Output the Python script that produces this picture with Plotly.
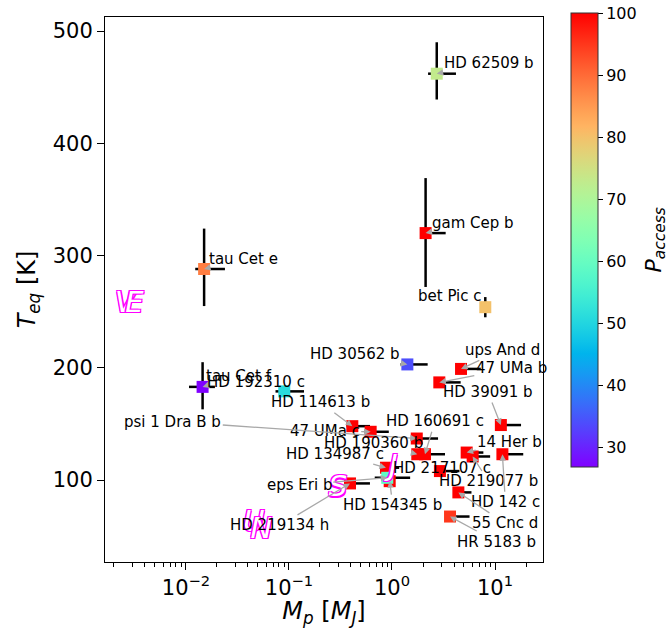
import numpy as np
import plotly.graph_objects as go

# ---------------- data ----------------
names = ["HD 62509 b", "tau Cet e", "gam Cep b", "bet Pic c", "tau Cet f", "HD 192310 c",
         "HD 30562 b", "ups And d", "47 UMa b", "HD 39091 b", "HD 114613 b", "47 UMa c",
         "psi 1 Dra B b", "HD 190360 b", "HD 160691 c", "HD 134987 c", "HD 154345 b",
         "eps Eri b", "HD 219134 h", "HD 217107 c", "14 Her b", "HD 219077 b", "HD 142 c",
         "55 Cnc d", "HR 5183 b"]
mass = [2.72, 0.0150, 2.12, 8.05, 0.0145, 0.090,
        1.41, 4.68, 2.88, 11.4, 0.412, 0.621,
        1.74, 1.76, 2.09, 0.874, 0.95,
        0.90, 0.391, 2.92, 5.31, 6.07, 11.8,
        4.41, 3.66]
teq = [462, 288, 320, 254, 183, 179,
       203, 199, 187, 149, 148, 143,
       137, 123, 123, 111, 99,
       102, 97, 108, 124.5, 121, 123,
       89, 67.5]
p_access = [73, 88, 100, 80, 26.8, 51,
            34, 100, 100, 100, 100, 100,
            100, 100, 100, 100, 100,
            59, 100, 100, 100, 100, 100,
            100, 95]
mass_err_lo = [0.48, 0.0027, 0.25, 0.3, 0.0038, 0.016,
               0.2, 0.5, 0.3, 1.0, 0.05, 0.08,
               0.2, 0.2, 0.2, 0.1, 0.0,
               0.22, 0.04, 0.3, 0.5, 0.5, 1.0,
               0.4, 0.3]
mass_err_hi = [1.46, 0.0089, 1.2, 0.3, 0.0046, 0.05,
               0.81, 2.6, 1.76, 6.5, 0.2, 0.31,
               1.06, 0.5, 1.18, 0.3, 0.0,
               0.6, 0.22, 1.6, 2.4, 2.9, 7.0,
               1.5, 2.0]
teq_err_lo = [23, 33, 48, 9, 20, 0,
              0, 0, 0, 0, 0, 0,
              0, 0, 0, 0, 0,
              0, 0, 0, 0, 0, 0,
              0, 0]
teq_err_hi = [28, 36, 49, 9, 22, 0,
              0, 0, 0, 0, 0, 0,
              0, 0, 0, 0, 0,
              0, 0, 0, 0, 0, 0,
              0, 0]

# Solar-system reference planets
ss_letters = ["V", "E", "J", "S", "U", "N"]
ss_mass = [0.00256, 0.00315, 1.03, 0.299, 0.0457, 0.054]
ss_teq = [256, 256, 111, 92, 61, 55]

x_ticks = [0.01, 0.1, 1, 10]
x_ticktext = ["10<sup>−2</sup>", "10<sup>−1</sup>", "10<sup>0</sup>", "10<sup>1</sup>"]
y_ticks = [100, 200, 300, 400, 500]
cbar_ticks = [30, 40, 50, 60, 70, 80, 90, 100]

# ---------------- layout helpers (label placement, pixels) ----------------
label_offsets = {
    "HD 62509 b": (52, -11), "tau Cet e": (39, -10), "gam Cep b": (47, -10),
    "bet Pic c": (-35, -11), "tau Cet f": (36, -11), "HD 192310 c": (-28, -9),
    "HD 30562 b": (-52, -10), "ups And d": (41, -19), "47 UMa b": (72, -14),
    "HD 39091 b": (-13, -33), "HD 114613 b": (-32, -24), "47 UMa c": (-46, -1),
    "psi 1 Dra B b": (-244, -17), "HD 190360 b": (-44, -11), "HD 160691 c": (10, -33),
    "HD 134987 c": (-51, -14), "HD 154345 b": (3, 24), "eps Eri b": (-88, 7),
    "HD 219134 h": (-70, 42), "HD 217107 c": (2, -3), "14 Her b": (43, -11),
    "HD 219077 b": (16, 25), "HD 142 c": (3, 48), "55 Cnc d": (47, 31),
    "HR 5183 b": (46, 25),
}
no_arrow = {"HD 217107 c"}

# matplotlib 'rainbow' colormap
def rainbow(t):
    r = np.clip(np.abs(2 * t - 0.5), 0, 1)
    g = np.clip(np.sin(np.pi * t), 0, 1)
    b = np.clip(np.cos(np.pi * t / 2), 0, 1)
    return f"rgb({int(round(r*255))},{int(round(g*255))},{int(round(b*255))})"

colorscale = [[float(t), rainbow(t)] for t in np.linspace(0, 1, 41)]
cmin, cmax = min(p_access), 100

FONT = "DejaVu Sans"

fig = go.Figure()

fig.add_trace(go.Scatter(
    x=mass, y=teq, mode="markers",
    marker=dict(symbol="square", size=12, color=p_access, colorscale=colorscale,
                cmin=cmin, cmax=cmax, line=dict(width=0),
                colorbar=dict(
                    x=1.064, xanchor="left", xpad=0, y=1.007, yanchor="top", ypad=0,
                    lenmode="pixels", len=454, thickness=27,
                    outlinewidth=1, outlinecolor="#333",
                    tickvals=cbar_ticks, ticks="outside", ticklen=5, tickcolor="black",
                    tickfont=dict(family=FONT, size=16, color="black"),
                )),
    error_x=dict(type="data", symmetric=False, array=mass_err_hi, arrayminus=mass_err_lo,
                 color="black", thickness=2.5, width=0),
    error_y=dict(type="data", symmetric=False, array=teq_err_hi, arrayminus=teq_err_lo,
                 color="black", thickness=2.5, width=0),
    showlegend=False, hoverinfo="text", text=names,
))

fig.add_trace(go.Scatter(
    x=ss_mass, y=ss_teq, mode="text", text=ss_letters,
    textfont=dict(family=FONT, size=29, color="white", style="italic",
                  shadow="-1.3px -1.3px 0 #ff00ff, 1.3px -1.3px 0 #ff00ff, -1.3px 1.3px 0 #ff00ff, 1.3px 1.3px 0 #ff00ff"),
    showlegend=False, hoverinfo="skip",
))

annotations = []
for n, mx, my in zip(names, mass, teq):
    dx, dy = label_offsets[n]
    if n in no_arrow:
        annotations.append(dict(x=np.log10(mx), y=my, xref="x", yref="y", text=n,
                                showarrow=False, xshift=dx, yshift=-dy,
                                font=dict(family=FONT, size=15, color="black")))
    else:
        annotations.append(dict(x=np.log10(mx), y=my, xref="x", yref="y", text=n,
                                showarrow=True, ax=dx, ay=dy, arrowhead=2, arrowsize=1,
                                arrowwidth=1.3, arrowcolor="#a8a8a8", standoff=0,
                                font=dict(family=FONT, size=15, color="black")))

# colorbar title (rotated)
annotations.append(dict(xref="paper", yref="paper", x=1.257, y=0.591,
                        xanchor="center", yanchor="middle", textangle=-90, showarrow=False,
                        text="<i>P</i><sub><i>access</i></sub>",
                        font=dict(family=FONT, size=22, color="black")))

axis_common = dict(showgrid=False, zeroline=False, showline=True, linecolor="black",
                   linewidth=1, mirror=True, ticks="outside", ticklen=7, tickwidth=1,
                   tickcolor="black", automargin=False)

minor_vals = [m * 10.0 ** k for k in range(-3, 2) for m in range(2, 10)]

fig.update_layout(
    width=671, height=628,
    margin=dict(l=105, r=128, t=17, b=66),
    paper_bgcolor="white", plot_bgcolor="white",
    font=dict(family=FONT, color="black"),
    annotations=annotations,
    xaxis=dict(type="log", range=[-2.786, 1.466], tickvals=x_ticks, ticktext=x_ticktext,
               tickfont=dict(family=FONT, size=21, color="black"),
               title=dict(text="<i>M</i><sub><i>p</i></sub> [<i>M</i><sub><i>J</i></sub>]",
                          font=dict(family=FONT, size=24, color="black"), standoff=10),
               minor=dict(ticks="outside", ticklen=4, tickcolor="black", tickvals=minor_vals),
               **axis_common),
    yaxis=dict(range=[27, 512.5], tickvals=y_ticks,
               tickfont=dict(family=FONT, size=21, color="black"),
               title=dict(text="<i>T</i><sub><i>eq</i></sub> [K]",
                          font=dict(family=FONT, size=24, color="black"), standoff=10),
               **axis_common),
)

fig.write_html("out.html")
